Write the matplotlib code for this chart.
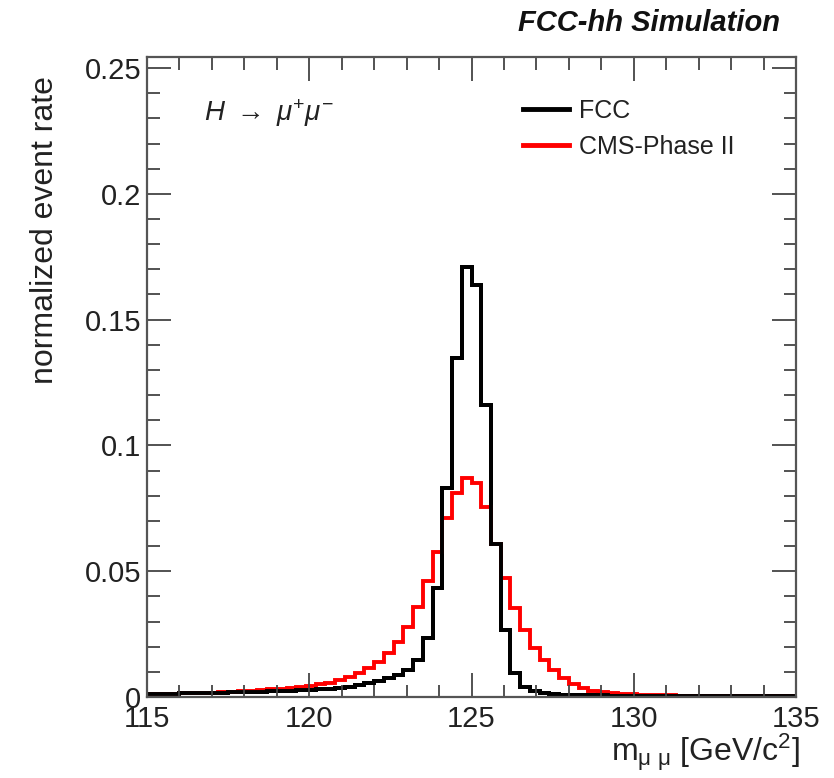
import numpy as np
import matplotlib
matplotlib.use("Agg")
import matplotlib.pyplot as plt
from matplotlib.ticker import MultipleLocator, FuncFormatter

plt.rcParams['font.family'] = ['Liberation Sans', 'DejaVu Sans']
plt.rcParams['mathtext.fontset'] = 'custom'
plt.rcParams['mathtext.rm'] = 'Liberation Sans'
plt.rcParams['mathtext.it'] = 'Liberation Sans:italic'
plt.rcParams['mathtext.bf'] = 'Liberation Sans:bold'

# bin edges: 0.3 GeV bins, one edge at 125
bin_lo = 114.8
bin_w = 0.3
fcc = [0.0012, 0.0012, 0.0013, 0.0013, 0.0014, 0.0014, 0.0015, 0.0016, 0.0017, 0.0018,
       0.0019, 0.0020, 0.0021, 0.0022, 0.0023, 0.0025, 0.0027, 0.0029, 0.0031, 0.0033,
       0.0037, 0.0041, 0.0047, 0.0054, 0.0063, 0.0074, 0.0087, 0.0107, 0.0147, 0.0233,
       0.0432, 0.0830, 0.1346, 0.1710, 0.1637, 0.1160, 0.0610, 0.0266, 0.0094, 0.0041,
       0.0024, 0.0015, 0.0011, 0.0009, 0.0008, 0.0007, 0.0006, 0.0006, 0.0005, 0.0005,
       0.0004, 0.0004, 0.0004, 0.0003, 0.0003, 0.0003, 0.0003, 0.0003, 0.0002, 0.0002,
       0.0002, 0.0002, 0.0002, 0.0002, 0.0002, 0.0002, 0.0002, 0.0002]
cms = [0.0010, 0.0011, 0.0012, 0.0013, 0.0014, 0.0015, 0.0016, 0.0017, 0.0019, 0.0021,
       0.0023, 0.0025, 0.0027, 0.0030, 0.0033, 0.0036, 0.0040, 0.0045, 0.0050, 0.0057,
       0.0068, 0.0081, 0.0094, 0.0114, 0.0140, 0.0175, 0.0220, 0.0280, 0.0359, 0.0460,
       0.0578, 0.0710, 0.0810, 0.0869, 0.0849, 0.0756, 0.0610, 0.0475, 0.0352, 0.0266,
       0.0193, 0.0147, 0.0107, 0.0074, 0.0052, 0.0034, 0.0025, 0.0020, 0.0016, 0.0013,
       0.0011, 0.0009, 0.0008, 0.0007, 0.0006, 0.0005, 0.0005, 0.0004, 0.0004, 0.0004,
       0.0003, 0.0003, 0.0003, 0.0003, 0.0003, 0.0002, 0.0002, 0.0002]
edges = bin_lo + bin_w * np.arange(len(fcc) + 1)

fig = plt.figure(figsize=(8.34, 7.78), dpi=100)
ax = fig.add_axes([147/834, 1-697/778, (796-147)/834, (697-57)/778])

ax.stairs(fcc, edges, color='black', lw=2.8, label='FCC', baseline=None)
ax.stairs(cms, edges, color='#ff0000', lw=2.8, label='CMS-Phase II', baseline=None)
ax.stairs(fcc, edges, color='black', lw=2.8, baseline=None)

ax.set_xlim(115, 135)
ax.set_ylim(0, 0.2544)

ax.xaxis.set_major_locator(MultipleLocator(5))
ax.xaxis.set_minor_locator(MultipleLocator(1))
ax.yaxis.set_major_locator(MultipleLocator(0.05))
ax.yaxis.set_minor_locator(MultipleLocator(0.01))
ax.yaxis.set_major_formatter(FuncFormatter(lambda v, p: '0' if abs(v) < 1e-9 else ('%g' % round(v, 3))))
ax.tick_params(which='both', direction='in', top=True, right=True, color='#444444')
ax.tick_params(which='major', length=17, width=1.3, labelsize=21, pad=6, labelcolor='#222222')
ax.tick_params(which='minor', length=9, width=1.3)
ax.tick_params(axis='y', which='major', pad=4)
for s in ax.spines.values():
    s.set_color('#555555')
    s.set_linewidth(1.6)

fig.text(45/834, 1-230/778, 'normalized event rate', rotation=90, fontsize=23,
         ha='center', va='center', color='#222222')
fig.text(800/834, 1-752/778, r'm$_{\mathrm{\mu\ \mu}}$ [GeV/c$^{2}$]', fontsize=23,
         ha='right', va='center', color='#222222')
fig.text(780/834, 1-23/778, 'FCC-hh Simulation', fontsize=21, fontweight='bold',
         fontstyle='italic', ha='right', va='center', color='#111111')
fig.text(204/834, 1-113/778, r'$H\ \rightarrow\ \mu^{+}\mu^{-}$',
         fontsize=20, ha='left', va='center', color='#222222')

leg = ax.legend(loc='upper left', bbox_to_anchor=(500/834, 1-76/778),
                bbox_transform=fig.transFigure, frameon=False, fontsize=18,
                handlelength=1.85, handletextpad=0.4, labelspacing=0.5)
for h in leg.get_lines():
    h.set_linewidth(3.5)
for t in leg.get_texts():
    t.set_color('#222222')

fig.savefig('out.png', dpi=100)
